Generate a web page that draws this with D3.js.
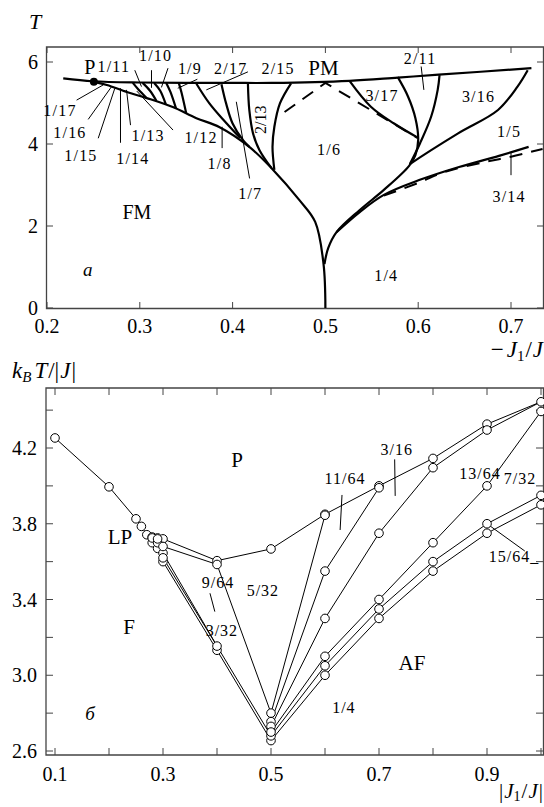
<!DOCTYPE html>
<html><head><meta charset="utf-8">
<script src="https://cdn.jsdelivr.net/npm/d3@7"></script>
<style>body{margin:0;background:#fff} text{font-family:"Liberation Serif",serif;fill:#000}</style>
</head><body><svg id="c" width="544" height="807"></svg>
<script>
// ---------- TOP PANEL DATA (x = -J1/J, y = T) ----------
const topXTicks = [0.2,0.3,0.4,0.5,0.6,0.7];
const topYTicks = [0,2,4,6];
const pmLine = [[0.2175,5.60],[0.2495,5.53],[0.30,5.50],[0.40,5.49],[0.442,5.49],[0.526,5.54],[0.578,5.62],[0.622,5.69],[0.722,5.85]];
const fmLine = [[0.2516,5.51],[0.2645,5.44],[0.286,5.27],[0.3075,5.12],[0.3355,4.90],[0.361,4.63],[0.386,4.41],[0.418,3.93],[0.442,3.41],[0.472,2.63],[0.489,2.10],[0.498,1.07],[0.5,0]];
const pPoint = [0.2505,5.52];
const curveA = [[0.2925,5.49],[0.2985,5.33],[0.307,5.13]];
const curveB = [[0.303,5.49],[0.311,5.30],[0.318,5.05]];
const curveC = [[0.3155,5.49],[0.322,5.30],[0.328,4.97]];
const curveD = [[0.3285,5.49],[0.333,5.27],[0.339,4.87]];
const curveE = [[0.342,5.49],[0.345,5.25],[0.350,4.75]];
const curveF = [[0.361,5.47],[0.375,4.99],[0.390,4.59],[0.408,4.15]];
const curveG = [[0.388,5.46],[0.393,4.99],[0.400,4.50],[0.411,4.10],[0.418,3.93]];
const curve213 = [[0.4165,5.48],[0.418,4.83],[0.422,4.26],[0.429,3.85],[0.442,3.41]];
const curve16L = [[0.463,5.48],[0.451,4.99],[0.445,4.42],[0.443,3.93],[0.445,3.37]];
const curveC1 = [[0.578,5.63],[0.589,5.16],[0.597,4.63],[0.600,4.10],[0.597,3.73],[0.590,3.46],[0.563,2.88],[0.537,2.39],[0.512,1.85],[0.503,1.46],[0.499,1.07]];
const curveC2 = [[0.526,5.54],[0.549,4.91],[0.574,4.50],[0.600,4.15]];
const curveC3 = [[0.623,5.68],[0.621,5.32],[0.614,4.67],[0.602,4.02],[0.591,3.51]];
const curveC4 = [[0.718,5.80],[0.707,5.40],[0.686,4.83],[0.643,4.26],[0.591,3.51]];
const curveC5 = [[0.512,1.85],[0.537,2.34],[0.563,2.76],[0.601,3.12],[0.644,3.44],[0.687,3.71],[0.719,3.93]];
const dashA = [[0.456,4.78],[0.500,5.49],[0.599,4.15]];
const dashB = [[0.563,2.74],[0.600,3.05],[0.630,3.33],[0.670,3.55],[0.700,3.69],[0.734,3.88]];
const topLabels = [
 ["1/11",0.272,5.90],["1/10",0.317,6.17],["1/9",0.354,5.85],["2/17",0.398,5.85],["2/15",0.449,5.85],
 ["2/11",0.602,6.10],["3/17",0.561,5.20],["3/16",0.665,5.17],["1/5",0.698,4.32],["3/14",0.698,2.73],
 ["1/6",0.504,3.88],["1/8",0.386,3.54],["1/7",0.419,2.80],["1/12",0.366,4.17],["1/13",0.309,4.22],
 ["1/14",0.2925,3.66],["1/15",0.2366,3.73],["1/16",0.2247,4.29],["1/17",0.214,4.83],["1/4",0.5656,0.80]];
const topPointers = [
 [[0.2319,5.07],[0.2605,5.44]],[[0.2444,4.60],[0.2696,5.40]],[[0.2552,4.14],[0.2731,5.36]],
 [[0.2792,4.03],[0.2792,5.36]],[[0.29,4.46],[0.2857,5.32]],[[0.3358,4.34],[0.2968,5.29]],
 [[0.2946,5.80],[0.3018,5.40]],[[0.3126,5.80],[0.3126,5.37]],[[0.3304,5.85],[0.3233,5.38]],
 [[0.3620,5.58],[0.3409,5.36]],[[0.4165,5.76],[0.3717,5.32]],[[0.3887,4.42],[0.3887,3.90]],
 [[0.404,5.03],[0.4183,3.16]],[[0.6032,5.89],[0.6061,5.32]],[[0.70,3.80],[0.70,3.24]]];

// ---------- BOTTOM PANEL DATA (x = |J1/J|, y = kT/|J|) ----------
const botXTicks = [0.1,0.2,0.3,0.4,0.5,0.6,0.7,0.8,0.9,1.0];
const botXLabels = [0.1,0.3,0.5,0.7,0.9];
const botYTicks = [2.6,2.8,3.0,3.2,3.4,3.6,3.8,4.0,4.2,4.4];
const botYLabels = [2.6,3.0,3.4,3.8,4.2];
const pBoundary = [[0.1,4.253],[0.2,3.995],[0.25,3.826],[0.26,3.786],[0.27,3.742],[0.28,3.73],[0.29,3.725],[0.3,3.72],[0.4,3.605],[0.5,3.667],[0.6,3.85],[0.7,4.0],[0.8,4.145],[0.9,4.326],[1.0,4.444]];
const fBoundary = [[0.27,3.742],[0.28,3.70],[0.29,3.67],[0.3,3.60],[0.4,3.132],[0.5,2.655]];
const b3_32 = [[0.28,3.725],[0.29,3.70],[0.3,3.645],[0.4,3.154],[0.5,2.68]];
const b9_64 = [[0.29,3.72],[0.3,3.62],[0.4,3.154]];
const b5_32 = [[0.3,3.68],[0.4,3.585],[0.5,2.80]];
const b11_64 = [[0.5,2.80],[0.6,3.845]];
const b3_16 = [[0.5,2.755],[0.6,3.55],[0.7,3.99]];
const b13_64 = [[0.5,2.73],[0.6,3.30],[0.7,3.75],[0.8,4.096],[0.9,4.295],[1.0,4.444]];
const b7_32 = [[0.5,2.70],[0.6,3.10],[0.7,3.40],[0.8,3.70],[0.9,4.0],[1.0,4.393]];
const b15_64 = [[0.5,2.68],[0.6,3.05],[0.7,3.35],[0.8,3.60],[0.9,3.80],[1.0,3.95]];
const b1_4 = [[0.5,2.655],[0.6,3.00],[0.7,3.30],[0.8,3.55],[0.9,3.75],[1.0,3.90]];
const botLabels = [
 ["9/64",0.402,3.49],["3/32",0.409,3.24],["5/32",0.485,3.45],["11/64",0.637,4.04],["3/16",0.733,4.195],
 ["13/64",0.887,4.07],["7/32",0.961,4.04],["15/64_",0.95,3.63],["1/4",0.635,2.83]];
const botPointers = [
 [[0.387,3.433],[0.396,3.336]],[[0.6315,3.952],[0.628,3.767]],[[0.729,4.14],[0.730,3.947]],[[0.9,3.80],[0.97,3.656]]];

// ---------- DRAW ----------
const svg = d3.select("#c");
const axisCol = "#444";

// Top scales
const xT = d3.scaleLinear().domain([0.2,0.7]).range([47,511]);
const yT = d3.scaleLinear().domain([0,6]).range([308,62]);
const gT = svg.append("g");
gT.append("path").attr("d",`M46.5,47H543.5V308.5H46.5Z`).attr("fill","none").attr("stroke",axisCol).attr("stroke-width",1.3);
topXTicks.forEach(v=>{
  gT.append("line").attr("x1",xT(v)).attr("x2",xT(v)).attr("y1",308.5).attr("y2",302).attr("stroke",axisCol);
  gT.append("line").attr("x1",xT(v)).attr("x2",xT(v)).attr("y1",47).attr("y2",53).attr("stroke",axisCol);
  gT.append("text").attr("x",xT(v)).attr("y",333).attr("text-anchor","middle").attr("font-size",20).text(v.toFixed(1));
});
topYTicks.forEach(v=>{
  gT.append("line").attr("x1",46.5).attr("x2",53).attr("y1",yT(v)).attr("y2",yT(v)).attr("stroke",axisCol);
  gT.append("line").attr("x1",543.5).attr("x2",537).attr("y1",yT(v)).attr("y2",yT(v)).attr("stroke",axisCol);
  gT.append("text").attr("x",38).attr("y",yT(v)+7).attr("text-anchor","end").attr("font-size",20).text(v);
});
const lT = d3.line().x(d=>xT(d[0])).y(d=>yT(d[1])).curve(d3.curveCatmullRom.alpha(0.5));
const thick = [pmLine,fmLine,curveA,curveB,curveC,curveD,curveE,curveF,curveG,curve213,curve16L,curveC1,curveC2,curveC3,curveC4,curveC5];
thick.forEach(c=>gT.append("path").attr("d",lT(c)).attr("fill","none").attr("stroke","#000").attr("stroke-width",2.2));
const lTlin = d3.line().x(d=>xT(d[0])).y(d=>yT(d[1]));
gT.append("path").attr("d",lTlin(dashA)).attr("fill","none").attr("stroke","#000").attr("stroke-width",2).attr("stroke-dasharray","13,9");
gT.append("path").attr("d",lT(dashB)).attr("fill","none").attr("stroke","#000").attr("stroke-width",2).attr("stroke-dasharray","13,9");
topPointers.forEach(p=>gT.append("path").attr("d",lTlin(p)).attr("stroke","#000").attr("stroke-width",1));
gT.append("circle").attr("cx",xT(pPoint[0])).attr("cy",yT(pPoint[1])).attr("r",4).attr("fill","#000");
topLabels.forEach(([t,x,y])=>gT.append("text").attr("x",xT(x)).attr("y",yT(y)+6).attr("text-anchor","middle").attr("font-size",16).attr("letter-spacing",1.2).text(t));
gT.append("text").attr("x",xT(0.2462)).attr("y",yT(5.88)+7).attr("text-anchor","middle").attr("font-size",20).text("P");
gT.append("text").attr("x",xT(0.498)).attr("y",yT(5.85)+7).attr("text-anchor","middle").attr("font-size",21).text("PM");
gT.append("text").attr("x",xT(0.2968)).attr("y",yT(2.34)+7).attr("text-anchor","middle").attr("font-size",20).text("FM");
gT.append("text").attr("x",xT(0.244)).attr("y",yT(0.93)+6).attr("text-anchor","middle").attr("font-size",19).attr("font-style","italic").text("a");
gT.append("text").attr("transform",`translate(${xT(0.431)+5},${yT(4.59)}) rotate(-90)`).attr("text-anchor","middle").attr("font-size",16).text("2/13");
gT.append("text").attr("x",35).attr("y",29).attr("text-anchor","middle").attr("font-size",22).attr("font-style","italic").text("T");
const tJ = gT.append("text").attr("x",543).attr("y",357).attr("text-anchor","end").attr("font-size",23);
tJ.append("tspan").text("−");
tJ.append("tspan").attr("font-style","italic").attr("dx",3).text("J");
tJ.append("tspan").attr("font-size",15).attr("dy",4).text("1");
tJ.append("tspan").attr("dy",-4).attr("dx",1).text("/");
tJ.append("tspan").attr("font-style","italic").attr("dx",1).text("J");

// Bottom scales
const xB = d3.scaleLinear().domain([0.1,1.0]).range([55,541]);
const yB = d3.scaleLinear().domain([2.6,4.2]).range([751,448]);
const gB = svg.append("g");
gB.append("path").attr("d",`M46,388H543.5V755H46Z`).attr("fill","none").attr("stroke",axisCol).attr("stroke-width",1.3);
botXTicks.forEach(v=>{
  gB.append("line").attr("x1",xB(v)).attr("x2",xB(v)).attr("y1",755).attr("y2",748).attr("stroke",axisCol);
  gB.append("line").attr("x1",xB(v)).attr("x2",xB(v)).attr("y1",388).attr("y2",395).attr("stroke",axisCol);
});
botXLabels.forEach(v=>gB.append("text").attr("x",xB(v)).attr("y",781).attr("text-anchor","middle").attr("font-size",20).text(v.toFixed(1)));
botYTicks.forEach(v=>{
  gB.append("line").attr("x1",46).attr("x2",53).attr("y1",yB(v)).attr("y2",yB(v)).attr("stroke",axisCol);
  gB.append("line").attr("x1",543.5).attr("x2",536).attr("y1",yB(v)).attr("y2",yB(v)).attr("stroke",axisCol);
});
botYLabels.forEach(v=>gB.append("text").attr("x",37).attr("y",yB(v)+7).attr("text-anchor","end").attr("font-size",20).text(v.toFixed(1)));
const lB = d3.line().x(d=>xB(d[0])).y(d=>yB(d[1]));
const series = [pBoundary,fBoundary,b3_32,b9_64,b5_32,b11_64,b3_16,b13_64,b7_32,b15_64,b1_4];
series.forEach(s=>gB.append("path").attr("d",lB(s)).attr("fill","none").attr("stroke","#000").attr("stroke-width",1));
botPointers.forEach(p=>gB.append("path").attr("d",lB(p)).attr("stroke","#000").attr("stroke-width",1));
const seen = new Set(); const pts=[];
series.forEach(s=>s.forEach(d=>{const k=d[0]+"_"+d[1]; if(!seen.has(k)){seen.add(k);pts.push(d);}}));
gB.selectAll("circle.p").data(pts).enter().append("circle").attr("cx",d=>xB(d[0])).attr("cy",d=>yB(d[1])).attr("r",4.3).attr("fill","#fff").attr("stroke","#000").attr("stroke-width",1);
botLabels.forEach(([t,x,y])=>gB.append("text").attr("x",xB(x)).attr("y",yB(y)+6).attr("text-anchor","middle").attr("font-size",16).attr("letter-spacing",1).text(t));
[["P",0.437,4.137],["LP",0.2204,3.73],["F",0.237,3.255],["AF",0.761,3.065]].forEach(([t,x,y])=>gB.append("text").attr("x",xB(x)).attr("y",yB(y)+7).attr("text-anchor","middle").attr("font-size",21).text(t));
gB.append("text").attr("x",xB(0.165)).attr("y",yB(2.795)+6).attr("text-anchor","middle").attr("font-size",19).attr("font-style","italic").text("б");
const tk = gB.append("text").attr("x",12).attr("y",378).attr("font-size",23);
tk.append("tspan").attr("font-style","italic").text("k");
tk.append("tspan").attr("font-style","italic").attr("font-size",15).attr("dy",4).text("B");
tk.append("tspan").attr("font-style","italic").attr("dy",-4).attr("dx",3).text("T");
tk.append("tspan").attr("dx",1).text("/|");
tk.append("tspan").attr("font-style","italic").attr("dx",1).text("J");
tk.append("tspan").attr("dx",1).text("|");
const tj2 = gB.append("text").attr("x",543).attr("y",798).attr("text-anchor","end").attr("font-size",21);
tj2.append("tspan").text("|");
tj2.append("tspan").attr("font-style","italic").attr("dx",1).text("J");
tj2.append("tspan").attr("font-size",14).attr("dy",3).text("1");
tj2.append("tspan").attr("dy",-3).attr("dx",1).text("/");
tj2.append("tspan").attr("font-style","italic").attr("dx",1).text("J");
tj2.append("tspan").attr("dx",1).text("|");
</script></body></html>
